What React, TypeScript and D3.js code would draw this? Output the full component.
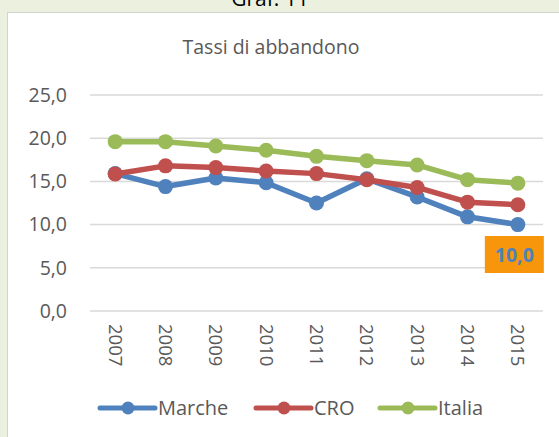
import React from 'react';
import * as d3 from 'd3';

const years = ['2007', '2008', '2009', '2010', '2011', '2012', '2013', '2014', '2015'];
const marche = [15.9, 14.4, 15.4, 14.85, 12.5, 15.3, 13.2, 10.9, 10.0];
const cro = [15.85, 16.8, 16.6, 16.2, 15.9, 15.2, 14.3, 12.6, 12.3];
const italia = [19.6, 19.6, 19.1, 18.6, 17.9, 17.4, 16.9, 15.2, 14.8];
const yTicks = [0, 5, 10, 15, 20, 25];
const seriesNames = ['Marche', 'CRO', 'Italia'];
const colors = ['#4F81BD', '#C0504D', '#9BBB59'];

const W = 559;
const H = 437;
const FONT = '"Open Sans", "Liberation Sans", sans-serif';

const App: React.FC = () => {
  const x = d3.scaleBand<string>().domain(years).range([90, 543]);
  const y = d3.scaleLinear().domain([0, 25]).range([311, 95]);
  const line = d3.line<number>()
    .x((_, i) => (x(years[i]) as number) + x.bandwidth() / 2)
    .y(d => y(d));
  const all = [marche, cro, italia];
  const fmt = (v: number) => v.toFixed(1).replace('.', ',');
  const lastX = (x(years[years.length - 1]) as number) + x.bandwidth() / 2;
  const legendX = [100, 256, 380];

  return (
    <svg width={W} height={H} style={{ position: 'absolute', left: 0, top: 0 }} fontFamily={FONT}>
      {/* outer page background */}
      <rect x={0} y={0} width={W} height={H} fill="#EBF1DE" />
      <text x={270} y={6} textAnchor="middle" fontSize={21} fill="#000">Graf. 11</text>
      {/* chart panel */}
      <rect x={7.5} y={12.5} width={W} height={H} fill="#fff" stroke="#D0D4CC" strokeWidth={1} />
      <text x={271} y={54} textAnchor="middle" fontSize={19.5} fill="#595959">Tassi di abbandono</text>

      {yTicks.map(t => (
        <g key={t}>
          <line x1={90} x2={543} y1={y(t)} y2={y(t)} stroke="#D9D9D9" strokeWidth={1.5} />
          <text x={67} y={y(t)} dy="0.35em" textAnchor="end" fontSize={19.5} fill="#595959">{fmt(t)}</text>
        </g>
      ))}

      {years.map(yr => {
        const cx = (x(yr) as number) + x.bandwidth() / 2;
        return (
          <text key={yr} transform={`translate(${cx},324) rotate(90)`} dy="0.35em" fontSize={18.5} fill="#595959">{yr}</text>
        );
      })}

      {all.map((s, si) => (
        <g key={seriesNames[si]}>
          <path d={line(s) || ''} fill="none" stroke={colors[si]} strokeWidth={5.5} strokeLinejoin="round" />
          {s.map((v, i) => (
            <circle key={i} cx={(x(years[i]) as number) + x.bandwidth() / 2} cy={y(v)} r={7.5} fill={colors[si]} />
          ))}
        </g>
      ))}

      {/* data label for last Marche value */}
      <rect x={lastX - 33} y={236} width={59} height={37} fill="#F7960A" />
      <text x={lastX - 3.5} y={255} dy="0.35em" textAnchor="middle" fontSize={19.5} fontWeight="bold" fill="#4F81BD">
        {fmt(marche[marche.length - 1])}
      </text>

      {seriesNames.map((n, i) => (
        <g key={n} transform={`translate(${legendX[i]},408)`}>
          <line x1={0} x2={55} y1={0} y2={0} stroke={colors[i]} strokeWidth={5} strokeLinecap="round" />
          <circle cx={28} cy={0} r={6.5} fill={colors[i]} />
          <text x={58} y={0} dy="0.35em" fontSize={20} fill="#595959">{n}</text>
        </g>
      ))}
    </svg>
  );
};

export default App;
